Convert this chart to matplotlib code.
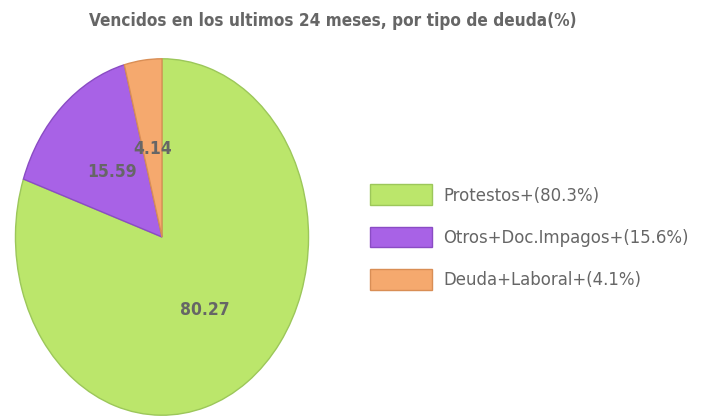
import matplotlib
matplotlib.use('Agg')
import matplotlib.pyplot as plt
from matplotlib import font_manager as fm

categorias = ['Protestos', 'Otros+Doc.Impagos', 'Deuda+Laboral']
valores = [80.27, 15.59, 4.14]
etiquetas = ['Protestos+(80.3%)', 'Otros+Doc.Impagos+(15.6%)', 'Deuda+Laboral+(4.1%)']
colores = ['#bbe66b', '#a862e6', '#f5a96e']
bordes = ['#9cc75a', '#8a4cc4', '#d98e55']
gris = '#666666'

# look for a narrow font like the one in the original, else Liberation Sans
files = [f.fname for f in fm.fontManager.ttflist]
def buscar(keys):
    for k in keys:
        for f in files:
            if k.lower() in f.lower().replace('-', '').replace('_', ''):
                return f
    return None

reg = buscar(['LiberationSansNarrowRegular', 'DejaVuSansCondensed.ttf'])
bold = buscar(['LiberationSansNarrowBold.', 'DejaVuSansCondensedBold.'])
if reg and bold:
    fp_reg = fm.FontProperties(fname=reg)
    fp_bold = fm.FontProperties(fname=bold)
    s_tit, s_leg, s_lab = 12.3, 13.2, 12.5
else:
    fp_reg = fm.FontProperties(family='Liberation Sans')
    fp_bold = fm.FontProperties(family='Liberation Sans', weight='bold')
    s_tit, s_leg, s_lab = 12.5, 12.5, 13

fig = plt.figure(figsize=(7.05, 4.18), dpi=100)
# elliptical pie: axes box not square, aspect auto
ax = fig.add_axes([14 / 705, 1 / 418, 296 / 705, 360 / 418])
wedges, texts = ax.pie(valores, labels=[f'{v:.2f}' for v in valores],
                       colors=colores, startangle=90, counterclock=False,
                       labeldistance=0.5, radius=1,
                       wedgeprops=dict(linewidth=1.0))
for w, b in zip(wedges, bordes):
    w.set_edgecolor(b)
for t in texts:
    t.set_fontproperties(fp_bold)
    t.set_fontsize(s_lab)
    t.set_color(gris)
    t.set_ha('center')
    t.set_va('center')
ax.set_aspect('auto')
ax.set_xlim(-1.01, 1.01)
ax.set_ylim(-1.01, 1.01)
ax.axis('off')

tit = fig.text(333 / 705, 1 - 21 / 418, 'Vencidos en los ultimos 24 meses, por tipo de deuda(%)',
               ha='center', va='center', color=gris, fontproperties=fp_bold)
tit.set_fontsize(s_tit)

fp_leg = fp_reg.copy()
fp_leg.set_size(s_leg)
px = s_leg * 100 / 72
leg = fig.legend(wedges, etiquetas, loc='center left',
                 bbox_to_anchor=(370 / 705, 1 - 237 / 418),
                 frameon=False, prop=fp_leg, handlelength=62 / px, handleheight=25 / px,
                 handletextpad=11 / px, labelspacing=21.5 / px, borderpad=0, borderaxespad=0)
for t in leg.get_texts():
    t.set_color(gris)

fig.savefig('out.png', dpi=100)
